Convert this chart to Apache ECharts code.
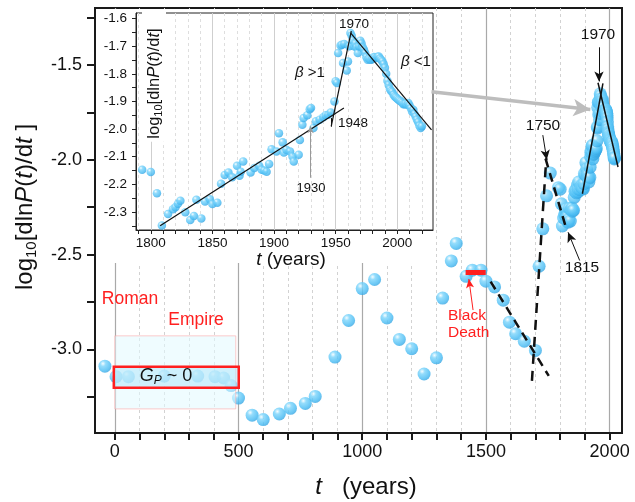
<!DOCTYPE html>
<html>
<head>
<meta charset="utf-8">
<script src="https://cdn.jsdelivr.net/npm/echarts@6/dist/echarts.min.js"></script>
<style>
  html, body { margin: 0; padding: 0; background: #fff; }
  #chart { width: 635px; height: 502px; }
</style>
</head>
<body>
<div id="chart"></div>
<script>
// --- data ---
// long run (main panel only)
var earlyYears = [-40, 5, 55, 200, 335, 405, 440, 470, 500, 555, 600, 665, 710, 770, 810, 890, 945, 1000, 1050,
  1100, 1150, 1200, 1250, 1300, 1325, 1360, 1380, 1420, 1445, 1480, 1500, 1535, 1570, 1595, 1620, 1655, 1700,
  1715, 1730, 1745, 1760];
var earlyRates = [-3.088, -3.143, -3.143, -3.14, -3.14, -3.143, -3.15, -3.19, -3.256, -3.346, -3.369, -3.34, -3.31,
  -3.284, -3.247, -3.04, -2.847, -2.679, -2.631, -2.834, -2.947, -2.996, -3.129, -3.044, -2.729, -2.533, -2.441,
  -2.614, -2.582, -2.582, -2.64, -2.67, -2.74, -2.856, -2.917, -2.956, -3.005, -2.561, -2.364, -2.19, -2.07];

// modern period (inset, also drawn in the main panel)
var modernYears = [1793, 1800, 1805, 1809, 1814, 1818, 1820, 1822, 1824, 1828, 1832, 1835, 1837, 1841, 1844, 1848,
  1850, 1854, 1857, 1860, 1863, 1866, 1870, 1872, 1873, 1875, 1881, 1884, 1888, 1890, 1892, 1894, 1896, 1898,
  1902, 1904, 1907, 1908, 1910, 1913, 1915, 1916, 1920, 1921, 1923, 1924, 1927, 1929, 1930, 1932, 1934, 1937,
  1940, 1942, 1944, 1946, 1949, 1950, 1951, 1952, 1954, 1955, 1956, 1957, 1959, 1960, 1961, 1962, 1963, 1964,
  1965, 1966, 1967, 1968, 1969, 1970, 1971, 1972, 1973, 1974, 1975, 1976, 1977, 1978, 1979, 1980, 1981, 1982,
  1983, 1984, 1985, 1986, 1987, 1988, 1989, 1990, 1991, 1992, 1993, 1994, 1995, 1996, 1997, 1998, 1999, 2000,
  2001, 2002, 2003, 2004, 2005, 2006, 2007, 2008, 2009, 2010, 2011, 2012, 2013, 2014, 2015, 2016, 2017, 2018,
  2019, 2020];
var modernRates = [-2.147, -2.155, -2.232, -2.349, -2.307, -2.29, -2.283, -2.27, -2.259, -2.301, -2.329, -2.314,
  -2.256, -2.323, -2.262, -2.254, -2.271, -2.266, -2.198, -2.166, -2.157, -2.174, -2.133, -2.169, -2.154, -2.117,
  -2.157, -2.141, -2.133, -2.147, -2.15, -2.154, -2.126, -2.073, -2.081, -2.015, -2.048, -2.085, -2.075, -2.081,
  -2.099, -2.117, -2.093, -2.039, -1.984, -1.96, -1.95, -1.928, -1.924, -1.996, -1.972, -1.966, -1.957, -1.95,
  -1.948, -1.94, -1.9, -1.827, -1.833, -1.725, -1.698, -1.695, -1.761, -1.692, -1.788, -1.755, -1.7, -1.652,
  -1.662, -1.679, -1.7, -1.69, -1.705, -1.725, -1.7, -1.68, -1.69, -1.705, -1.713, -1.725, -1.74, -1.749, -1.745,
  -1.748, -1.749, -1.745, -1.739, -1.74, -1.743, -1.738, -1.737, -1.745, -1.75, -1.755, -1.765, -1.778, -1.8,
  -1.825, -1.84, -1.855, -1.862, -1.866, -1.876, -1.882, -1.886, -1.89, -1.894, -1.897, -1.9, -1.905, -1.91,
  -1.91, -1.908, -1.912, -1.906, -1.915, -1.925, -1.936, -1.93, -1.945, -1.955, -1.966, -1.975, -1.988, -1.996,
  -1.99];

// tick / label positions
var mainXLabels = [0, 500, 1000, 1500, 2000];
var mainYLabels = [-3.0, -2.5, -2.0, -1.5];
var insetXLabels = [1800, 1850, 1900, 1950, 2000];
var insetYLabels = [-2.3, -2.2, -2.1, -2.0, -1.9, -1.8, -1.7, -1.6];

function steps(a, b, d) {
  var out = [];
  for (var v = a; v <= b + d / 2; v += d) out.push(Math.round(v * 100) / 100);
  return out;
}
function pairs(xs, ys) {
  return xs.map(function (x, i) { return [x, ys[i]]; });
}

var FONT = '"Liberation Sans", Arial, sans-serif';
var mainPoints = pairs(earlyYears, earlyRates).concat(pairs(modernYears, modernRates));
var insetPoints = pairs(modernYears, modernRates);

function ball() {
  return new echarts.graphic.RadialGradient(0.35, 0.3, 0.75, [
    {offset: 0, color: '#f4fcff'},
    {offset: 0.28, color: '#7ad4fb'},
    {offset: 0.75, color: '#47bbf3'},
    {offset: 1, color: '#35a3e0'}
  ]);
}

function seg(a, b, color, width, type, endSymbol, size) {
  var ls = {color: color, width: width, type: type || 'solid'};
  return [
    {coord: a, symbol: 'none', lineStyle: ls},
    {coord: b, symbol: endSymbol || 'none', symbolSize: size || 8, lineStyle: ls}
  ];
}

var chart = echarts.init(document.getElementById('chart'));

var option = {
  animation: false,
  grid: [
    {left: 95, top: 8, right: 13, bottom: 69, show: true, borderColor: '#1a1a1a', borderWidth: 2},
    {left: 136, top: 13, right: 202, bottom: 272, show: true, borderColor: '#222', borderWidth: 1, z: 3}
  ],
  xAxis: [
    {
      gridIndex: 0, type: 'value', min: -80, max: 2050, position: 'bottom',
      axisLine: {show: true, onZero: false, lineStyle: {color: '#1a1a1a', width: 2}},
      axisTick: {show: true, length: 7, customValues: steps(0, 2000, 100), lineStyle: {color: '#1a1a1a', width: 2}},
      axisLabel: {customValues: mainXLabels, fontSize: 18, margin: 10, color: '#111', fontFamily: FONT,
        formatter: function (v) { return String(v); }},
      splitLine: {show: true, lineStyle: {color: '#d2d2d2', width: 1, type: [3, 3]}}
    },
    {
      gridIndex: 0, type: 'value', min: -80, max: 2050, position: 'top',
      axisLine: {show: false, onZero: false},
      axisTick: {show: false, customValues: mainXLabels},
      axisLabel: {show: false},
      splitLine: {show: true, lineStyle: {color: '#a9a9a9', width: 1.2}}
    },
    {
      gridIndex: 1, type: 'value', min: 1788, max: 2029, position: 'bottom', z: 3,
      axisLine: {show: true, onZero: false, lineStyle: {color: '#222', width: 1}},
      axisTick: {show: true, length: 4, customValues: steps(1790, 2020, 10), lineStyle: {color: '#222', width: 1}},
      axisLabel: {customValues: insetXLabels, fontSize: 13.5, margin: 6, color: '#111', fontFamily: FONT,
        formatter: function (v) { return String(v); }},
      splitLine: {show: true, lineStyle: {color: '#dedede', width: 1, type: [3, 3]}}
    },
    {
      gridIndex: 1, type: 'value', min: 1788, max: 2029, position: 'top', z: 3,
      axisLine: {show: false, onZero: false},
      axisTick: {show: false, customValues: insetXLabels},
      axisLabel: {show: false},
      splitLine: {show: true, lineStyle: {color: '#cfcfcf', width: 1}}
    }
  ],
  yAxis: [
    {
      gridIndex: 0, type: 'value', min: -3.44, max: -1.2, position: 'left',
      axisLine: {show: true, onZero: false, lineStyle: {color: '#1a1a1a', width: 2}},
      axisTick: {show: true, length: 8, customValues: steps(-3.25, -1.25, 0.25), lineStyle: {color: '#1a1a1a', width: 2}},
      axisLabel: {customValues: mainYLabels, fontSize: 18, margin: 13, color: '#111', fontFamily: FONT,
        formatter: function (v) { return v.toFixed(1); }},
      splitLine: {show: false}
    },
    {
      gridIndex: 1, type: 'value', min: -2.365, max: -1.58, position: 'left', z: 3,
      axisLine: {show: true, onZero: false, lineStyle: {color: '#222', width: 1}},
      axisTick: {show: true, length: 4, customValues: steps(-2.35, -1.6, 0.05), lineStyle: {color: '#222', width: 1}},
      axisLabel: {customValues: insetYLabels, fontSize: 13.5, margin: 9, color: '#111', fontFamily: FONT,
        formatter: function (v) { return v.toFixed(1); }},
      splitLine: {show: false}
    }
  ],
  series: [
    {
      name: 'main', type: 'scatter', xAxisIndex: 0, yAxisIndex: 0, z: 2,
      symbolSize: 13, data: mainPoints,
      itemStyle: {color: ball()}
    },
    {
      // boxes, fit lines and arrows of the main panel
      name: 'mainNotes', type: 'line', xAxisIndex: 0, yAxisIndex: 0, z: 5, data: [],
      markArea: {
        silent: true, z: 6,
        label: {show: false},
        data: [
          [{coord: [0, -2.928], itemStyle: {color: 'rgba(226,250,255,0.55)', borderColor: 'rgba(255,160,160,0.55)', borderWidth: 1}},
           {coord: [489, -3.313]}],
          [{coord: [-4, -3.091], itemStyle: {color: 'rgba(178,230,250,0.55)', borderColor: '#ff1f1f', borderWidth: 2.5}},
           {coord: [501, -3.202]}]
        ]
      },
      markLine: {
        silent: true, z: 8, animation: false, label: {show: false}, symbol: ['none', 'none'],
        data: [
          seg([1890, -2.179], [1973, -1.597], '#111', 1.5),
          seg([1953, -1.594], [2034, -2.038], '#111', 1.5),
          seg([1686, -3.165], [1744, -1.992], '#111', 2.5, [10, 7]),
          seg([1741, -1.994], [1825, -2.364], '#111', 2.5, [9, 6]),
          seg([1519, -2.642], [1754, -3.139], '#111', 2.5, [9, 6]),
          seg([1957, -1.407], [1957, -1.587], '#111', 1, 'solid', 'arrow', [7, 10]),
          seg([1730, -1.87], [1746, -2.0], '#111', 1, 'solid', 'arrow', [7, 10]),
          seg([1879, -2.531], [1832, -2.382], '#111', 1, 'solid', 'arrow', [7, 10]),
          seg([1448, -2.792], [1431, -2.628], '#ff1f1f', 1, 'solid', 'arrow', [6, 9]),
          seg([1418, -2.595], [1499, -2.595], '#ff1f1f', 5),
          seg([1280, -1.642], [1922, -1.735], '#bdbdbd', 3.5, 'solid', 'arrow', [13, 17])
        ]
      }
    },
    {
      name: 'inset', type: 'scatter', xAxisIndex: 2, yAxisIndex: 1, z: 6,
      symbolSize: 8.5, data: insetPoints,
      itemStyle: {color: ball()}
    },
    {
      name: 'insetNotes', type: 'line', xAxisIndex: 2, yAxisIndex: 1, z: 7, data: [],
      markLine: {
        silent: true, z: 8, animation: false, label: {show: false}, symbol: ['none', 'none'],
        data: [
          seg([1807.6, -2.35], [1956.7, -1.924], '#111', 1.2),
          seg([1946.4, -1.99], [1962.7, -1.646], '#111', 1.2),
          seg([1962.1, -1.652], [2027.8, -2.0025], '#111', 1.2),
          seg([1929.6, -2.176], [1929.6, -1.99], '#999', 1, 'solid', 'arrow', [5, 7]),
          seg([1946.4, -1.96], [1946.4, -1.991], '#111', 1)
        ]
      }
    }
  ],
  graphic: {
    elements: [
      // blank the main panel behind the inset
      {type: 'rect', z: 1, silent: true, shape: {x: 97, y: 9, width: 337, height: 254}, style: {fill: '#fff'}},
      // main axis titles
      {type: 'text', z: 10, x: 25, y: 207, rotation: Math.PI / 2,
        style: {text: '{n|log}{s|10}{n|[dln}{i|P}{n|(}{i|t}{n|)/d}{i|t}{n| ]}', align: 'center', verticalAlign: 'middle',
          rich: {
            n: {fontSize: 24, fontFamily: FONT, fill: '#111', lineHeight: 29},
            i: {fontSize: 24, fontFamily: FONT, fontStyle: 'italic', fill: '#111', lineHeight: 29},
            s: {fontSize: 15, fontFamily: FONT, fill: '#111', lineHeight: 15, verticalAlign: 'bottom'}
          }}},
      {type: 'text', z: 10, x: 366, y: 487,
        style: {text: '{i|t}{n|   (years)}', align: 'center', verticalAlign: 'middle',
          rich: {
            n: {fontSize: 24, fontFamily: FONT, fill: '#111'},
            i: {fontSize: 24, fontFamily: FONT, fontStyle: 'italic', fill: '#111'}
          }}},
      // inset axis titles
      {type: 'text', z: 10, x: 154, y: 76, rotation: Math.PI / 2,
        style: {text: '{n|log}{s|10}{n|[dln}{i|P}{n|(}{i|t}{n|)/d}{i|t}{n|]}', align: 'center', verticalAlign: 'middle',
          backgroundColor: '#fff', padding: [2, 18, 2, 3],
          rich: {
            n: {fontSize: 16.5, fontFamily: FONT, fill: '#111', lineHeight: 20},
            i: {fontSize: 16.5, fontFamily: FONT, fontStyle: 'italic', fill: '#111', lineHeight: 20},
            s: {fontSize: 11, fontFamily: FONT, fill: '#111', lineHeight: 11, verticalAlign: 'bottom'}
          }}},
      {type: 'text', z: 10, x: 291, y: 260,
        style: {text: '{i|t}{n| (years)}', align: 'center', verticalAlign: 'middle',
          rich: {
            n: {fontSize: 19, fontFamily: FONT, fill: '#111'},
            i: {fontSize: 19, fontFamily: FONT, fontStyle: 'italic', fill: '#111'}
          }}},
      // main annotations
      {type: 'text', z: 10, x: 598, y: 35, style: {text: '1970', font: '15.5px ' + FONT, fill: '#111', align: 'center', verticalAlign: 'middle'}},
      {type: 'text', z: 10, x: 543, y: 126, style: {text: '1750', font: '15.5px ' + FONT, fill: '#111', align: 'center', verticalAlign: 'middle'}},
      {type: 'text', z: 10, x: 582, y: 268, style: {text: '1815', font: '15.5px ' + FONT, fill: '#111', align: 'center', verticalAlign: 'middle'}},
      {type: 'text', z: 10, x: 130, y: 299, style: {text: 'Roman', font: '17.5px ' + FONT, fill: '#ff2020', align: 'center', verticalAlign: 'middle'}},
      {type: 'text', z: 10, x: 196, y: 320, style: {text: 'Empire', font: '17.5px ' + FONT, fill: '#ff2020', align: 'center', verticalAlign: 'middle'}},
      {type: 'text', z: 10, x: 448, y: 316, style: {text: 'Black', font: '15.5px ' + FONT, fill: '#ff2020', align: 'left', verticalAlign: 'middle'}},
      {type: 'text', z: 10, x: 448, y: 333, style: {text: 'Death', font: '15.5px ' + FONT, fill: '#ff2020', align: 'left', verticalAlign: 'middle'}},
      {type: 'text', z: 10, x: 166, y: 376,
        style: {text: '{i|G}{s|P}{n| ~ 0}', align: 'center', verticalAlign: 'middle',
          rich: {
            n: {fontSize: 18, fontFamily: FONT, fill: '#111', lineHeight: 22},
            i: {fontSize: 18, fontFamily: FONT, fontStyle: 'italic', fill: '#111', lineHeight: 22},
            s: {fontSize: 12, fontFamily: FONT, fontStyle: 'italic', fill: '#111', lineHeight: 12, verticalAlign: 'bottom'}
          }}},
      // inset annotations
      {type: 'text', z: 10, x: 354, y: 24, style: {text: '1970', font: '13.5px ' + FONT, fill: '#111', align: 'center', verticalAlign: 'middle'}},
      {type: 'text', z: 10, x: 353, y: 123, style: {text: '1948', font: '13.5px ' + FONT, fill: '#111', align: 'center', verticalAlign: 'middle'}},
      {type: 'text', z: 10, x: 311, y: 188, style: {text: '1930', font: '13px ' + FONT, fill: '#111', align: 'center', verticalAlign: 'middle'}},
      {type: 'text', z: 10, x: 310, y: 73,
        style: {text: '{i|β}{n| >1}', align: 'center', verticalAlign: 'middle',
          rich: {n: {fontSize: 15, fontFamily: FONT, fill: '#111'}, i: {fontSize: 15, fontFamily: FONT, fontStyle: 'italic', fill: '#111'}}}},
      {type: 'text', z: 10, x: 416, y: 62,
        style: {text: '{i|β}{n| <1}', align: 'center', verticalAlign: 'middle',
          rich: {n: {fontSize: 15, fontFamily: FONT, fill: '#111'}, i: {fontSize: 15, fontFamily: FONT, fontStyle: 'italic', fill: '#111'}}}}
    ]
  }
};

chart.setOption(option);
</script>
</body>
</html>
